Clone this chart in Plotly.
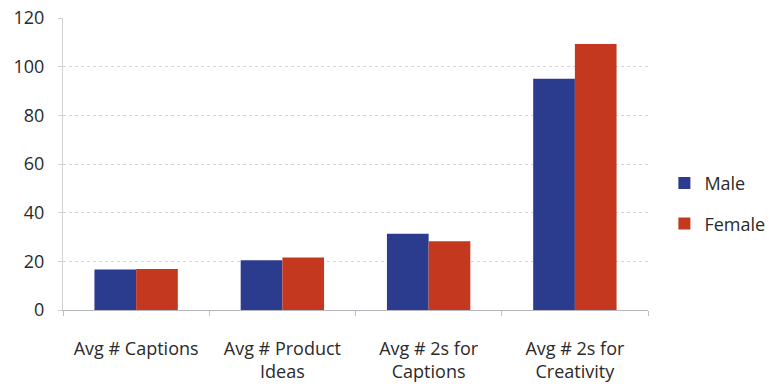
import plotly.graph_objects as go

categories = ["Avg # Captions", "Avg # Product<br>Ideas", "Avg # 2s for<br>Captions", "Avg # 2s for<br>Creativity"]
male = [16.6, 20.4, 31.3, 95.0]
female = [16.8, 21.6, 28.3, 109.3]
y_ticks = [0, 20, 40, 60, 80, 100, 120]

font_family = "'Open Sans', sans-serif"

fig = go.Figure()
fig.add_trace(go.Bar(name="Male", x=categories, y=male, marker_color="#2B3B8E",
                     marker_line_width=0, legendgroup="m"))
fig.add_trace(go.Bar(name="Female", x=categories, y=female, marker_color="#C3381F",
                     marker_line_width=0, legendgroup="f"))

fig.update_layout(
    width=769, height=388,
    margin=dict(l=63, r=121, t=18, b=78, autoexpand=False),
    paper_bgcolor="white", plot_bgcolor="white",
    barmode="group", bargap=0.43, bargroupgap=0,
    font=dict(family=font_family, size=16, color="#2a2a2a"),
    legend=dict(x=1.028, xanchor="left", y=0.365, yanchor="middle",
                font=dict(size=18, color="#2a2a2a"), tracegroupgap=14,
                itemwidth=30),
    showlegend=True,
)
fig.update_yaxes(range=[0, 120], tickvals=y_ticks, showgrid=True,
                 gridcolor="#d4d4de", griddash="dot", gridwidth=1,
                 showline=True, linecolor="#d0d0d0", linewidth=1,
                 zeroline=False, tickfont=dict(size=18), ticklabelstandoff=10,
                 ticks="outside", ticklen=4, tickcolor="#d0d0d0")
fig.update_xaxes(showline=True, linecolor="#b8b8c0", linewidth=1,
                 tickson="boundaries", ticks="outside", ticklen=5, tickcolor="#c0c0c0",
                 tickfont=dict(size=18), ticklabelstandoff=22)

fig.write_html("out.html")
